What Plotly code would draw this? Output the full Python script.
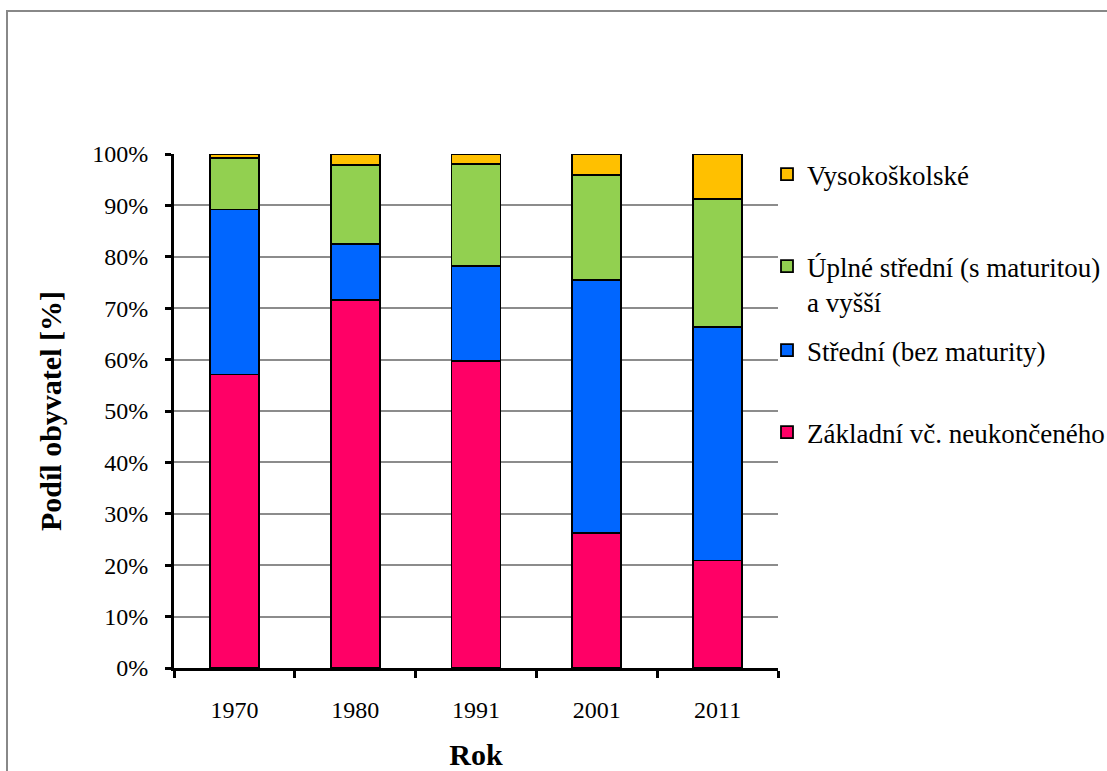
import plotly.graph_objects as go

years = ["1970", "1980", "1991", "2001", "2011"]
zakladni = [57.1, 71.6, 59.7, 26.3, 20.9]
stredni = [32.1, 10.9, 18.5, 49.2, 45.5]
uplne = [10.1, 15.3, 19.8, 20.4, 24.9]
vysoko = [0.7, 2.2, 2.0, 4.1, 8.7]

names = ["Základní vč. neukončeného", "Střední (bez maturity)",
         "Úplné střední (s maturitou)<br>a vyšší", "Vysokoškolské"]
colors = ["#FF0066", "#0066FF", "#92D050", "#FFC000"]
series = [zakladni, stredni, uplne, vysoko]
legends = ["legend4", "legend3", "legend2", "legend"]

FONT = "Liberation Serif, Times New Roman, serif"
W, H = 1107, 771
# plot area in window pixels: x 174..778, y 154..668
L, T = 174, 154
R = W - 778
B = H - 668
PW, PH = W - L - R, H - T - B

def px_x(p):
    return (p - L) / PW

def px_y(p):
    return (H - B - p) / PH

fig = go.Figure()
for name, col, vals, lg in zip(names, colors, series, legends):
    fig.add_trace(go.Bar(
        x=years, y=vals, name=name, legend=lg,
        marker=dict(color=col, line=dict(color="black", width=1.8)),
    ))

leg_common = dict(
    xanchor="left", bgcolor="rgba(0,0,0,0)", borderwidth=0,
    font=dict(family=FONT, size=27, color="black"), valign="top",
)
legend_layout = {}
legend_y = {"legend": 176, "legend2": 268, "legend3": 352, "legend4": 434}
for key, ypix in legend_y.items():
    legend_layout[key] = dict(leg_common, x=px_x(767), y=px_y(ypix - 26), yanchor="top")

fig.update_layout(
    width=W, height=H,
    margin=dict(l=L, r=R, t=T, b=B, autoexpand=False),
    barmode="stack", bargap=0.594,
    paper_bgcolor="white", plot_bgcolor="white",
    font=dict(family=FONT, size=24, color="black"),
    xaxis=dict(
        type="category", tickson="boundaries",
        showline=True, linecolor="black", linewidth=3,
        ticks="outside", ticklen=7, tickwidth=3, tickcolor="black",
        showgrid=False, ticklabelstandoff=18,
        tickfont=dict(family=FONT, size=24),
        title=dict(text="<b>Rok</b>", font=dict(family=FONT, size=30), standoff=23),
    ),
    yaxis=dict(
        range=[0, 100], dtick=10, ticksuffix="%",
        showline=True, linecolor="black", linewidth=3,
        ticks="outside", ticklen=6, tickwidth=3, tickcolor="black",
        showgrid=True, gridcolor="#8c8c8c", gridwidth=1.5,
        zeroline=False, ticklabelstandoff=12,
        tickfont=dict(family=FONT, size=24),
        title=dict(text="<b>Podíl obyvatel [%]</b>", font=dict(family=FONT, size=30), standoff=22),
    ),
    showlegend=True,
    **legend_layout,
)

fig.add_shape(type="rect", xref="paper", yref="paper",
              x0=px_x(7), x1=px_x(1400), y0=px_y(1100), y1=px_y(11),
              line=dict(color="#888888", width=2), fillcolor="rgba(0,0,0,0)",
              layer="below")

fig.write_html("out.html", config={"displayModeBar": False},
               post_script="document.body.style.margin='0';document.body.style.overflow='hidden';")
